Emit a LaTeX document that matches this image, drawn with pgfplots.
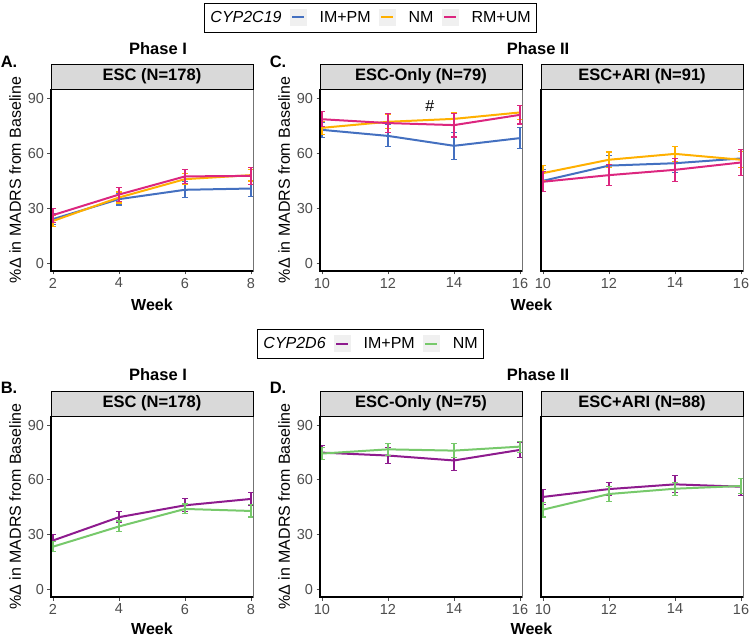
\documentclass[border=0pt]{standalone}
\usepackage{fontspec}
\setmainfont{Liberation Sans}
\usepackage{pgfplots}
\pgfplotsset{compat=1.18}
\definecolor{cblue}{HTML}{4470C0}
\definecolor{corange}{HTML}{FFB000}
\definecolor{cmag}{HTML}{DC267F}
\definecolor{dpurple}{HTML}{8E1B8E}
\definecolor{dgreen}{HTML}{77C96B}
\definecolor{stripgray}{HTML}{D9D9D9}
\definecolor{ticktext}{HTML}{4D4D4D}
\definecolor{keygray}{HTML}{F0F0F0}
\newcommand{\bigbold}{\fontsize{16.5bp}{19bp}\selectfont\bfseries}
\newcommand{\labfont}{\fontsize{16bp}{18bp}\selectfont}
\pgfplotsset{
  panel/.style={
    scale only axis, width=202bp,
    ymin=-4.3, ymax=95, ytick={0,30,60,90},
    axis line style={draw=black!55, line width=0.6bp},
    tick align=outside, tick pos=left, major tick length=3.5bp,
    tick style={ticktext, line width=0.8bp},
    ticklabel style={font=\fontsize{14.5bp}{16bp}\selectfont, text=ticktext},
    /pgf/number format/assume math mode=true,
    ylabel style={font=\labfont, at={(axis description cs:-0.178,0.5)}, anchor=center},
    xlabel style={font=\fontsize{16bp}{18bp}\selectfont\bfseries, anchor=center},
    legend image code/.code={\fill[keygray, draw=none] (0bp,-8.5bp) rectangle (17bp,8.5bp); \draw[##1, line width=2bp] (2.5bp,0bp) -- (14.5bp,0bp); \path (27bp,0bp);},
  },
  leg/.style={legend style={at={(axis description cs:#1)}, anchor=center, draw=black, line width=0.9bp,
    legend columns=-1, font=\labfont, inner xsep=4bp, inner ysep=6bp,
    /tikz/every even column/.append style={column sep=6bp}},
    legend cell align=left},
  ser/.style={color=#1, line width=2bp, mark=none,
    error bars/.cd, y dir=both, y explicit,
    error bar style={line width=1.1bp, #1},
    error mark options={rotate=90, mark size=3bp, line width=1.1bp, #1}},
}
\begin{document}
\begin{tikzpicture}
\useasboundingbox (0,0) rectangle (749bp,639bp);
% ---------- Panel A ----------
\begin{axis}[panel, name=A, at={(51bp,368bp)}, anchor=south west, height=182bp,
  xmin=1.94, xmax=8.06, xtick={2,4,6,8},
  ylabel={\%Δ in MADRS from Baseline},
  xlabel={Week}, xlabel style={at={(axis description cs:0.5,-0.187)}},
  leg={1.582,1.393}]
\addlegendimage{empty legend}
\addlegendentry{\textit{CYP2C19}}
\addplot[ser=cblue] coordinates {(2,24) +- (0,3) (4,34.9) +- (0,3.2) (6,40) +- (0,4.3) (8,40.7) +- (0,4.4)};
\addlegendentry{IM+PM}
\addplot[ser=corange] coordinates {(2,23) +- (0,2.8) (4,35.8) +- (0,3) (6,45.8) +- (0,3) (8,48) +- (0,3.2)};
\addlegendentry{NM}
\addplot[ser=cmag] coordinates {(2,26.2) +- (0,3.8) (4,37.4) +- (0,3.8) (6,47.3) +- (0,4) (8,47.6) +- (0,4.8)};
\addlegendentry{RM+UM}
\end{axis}
% ---------- Panel C1 ----------
\begin{axis}[panel, name=C1, at={(320bp,368bp)}, anchor=south west, height=182bp,
  xmin=9.94, xmax=16.06, xtick={10,12,14,16},
  ylabel={\%Δ in MADRS from Baseline},
  xlabel={Week}, xlabel style={at={(axis description cs:1.047,-0.187)}}]
\addplot[ser=cblue] coordinates {(10,72.7) +- (0,4) (12,69.4) +- (0,6) (14,64) +- (0,7.4) (16,68.2) +- (0,5.7)};
\addplot[ser=corange] coordinates {(10,73.8) +- (0,3.5) (12,77.1) +- (0,3.8) (14,78.7) +- (0,3.5) (16,82.2) +- (0,3.8)};
\addplot[ser=cmag] coordinates {(10,78.5) +- (0,4) (12,76.4) +- (0,5.2) (14,75.3) +- (0,6.5) (16,80.9) +- (0,5)};
\node[font=\labfont] at (axis cs:13.27,85.5) {\#};
\end{axis}
% ---------- Panel C2 ----------
\begin{axis}[panel, name=C2, at={(541bp,368bp)}, anchor=south west, height=182bp,
  xmin=9.94, xmax=16.06, xtick={10,12,14,16}, ytick=\empty]
\addplot[ser=cblue] coordinates {(10,44.9) +- (0,6) (12,53.2) +- (0,5.3) (14,54.5) +- (0,5.3) (16,57.1) +- (0,5)};
\addplot[ser=corange] coordinates {(10,49.1) +- (0,4) (12,56.4) +- (0,4.2) (14,59.6) +- (0,4) (16,56.4) +- (0,4.3)};
\addplot[ser=cmag] coordinates {(10,44.4) +- (0,5.4) (12,48) +- (0,5.7) (14,50.9) +- (0,6.2) (16,54.9) +- (0,7)};
\end{axis}
% ---------- Panel B ----------
\begin{axis}[panel, name=B, at={(51bp,42bp)}, anchor=south west, height=181bp,
  xmin=1.94, xmax=8.06, xtick={2,4,6,8},
  ylabel={\%Δ in MADRS from Baseline},
  xlabel={Week}, xlabel style={at={(axis description cs:0.5,-0.177)}},
  leg={1.582,1.398}]
\addlegendimage{empty legend}
\addlegendentry{\textit{CYP2D6}}
\addplot[ser=dpurple] coordinates {(2,26.7) +- (0,3.3) (4,39.5) +- (0,3) (6,46) +- (0,3.5) (8,49.5) +- (0,3.6)};
\addlegendentry{IM+PM}
\addplot[ser=dgreen] coordinates {(2,23.3) +- (0,2.8) (4,34.4) +- (0,3) (6,44) +- (0,2.7) (8,42.9) +- (0,3.3)};
\addlegendentry{NM}
\end{axis}
% ---------- Panel D1 ----------
\begin{axis}[panel, name=D1, at={(320bp,42bp)}, anchor=south west, height=181bp,
  xmin=9.94, xmax=16.06, xtick={10,12,14,16},
  ylabel={\%Δ in MADRS from Baseline},
  xlabel={Week}, xlabel style={at={(axis description cs:1.047,-0.177)}}]
\addplot[ser=dpurple] coordinates {(10,74.9) +- (0,3.8) (12,73.3) +- (0,4.3) (14,70.6) +- (0,5.5) (16,76.4) +- (0,4.2)};
\addplot[ser=dgreen] coordinates {(10,74.4) +- (0,3.3) (12,76.7) +- (0,3.2) (14,76) +- (0,4) (16,78.2) +- (0,3)};
\end{axis}
% ---------- Panel D2 ----------
\begin{axis}[panel, name=D2, at={(541bp,42bp)}, anchor=south west, height=181bp,
  xmin=9.94, xmax=16.06, xtick={10,12,14,16}, ytick=\empty]
\addplot[ser=dpurple] coordinates {(10,50.6) +- (0,4.3) (12,54.9) +- (0,3.6) (14,57.5) +- (0,4.7) (16,56.2) +- (0,4.7)};
\addplot[ser=dgreen] coordinates {(10,43.6) +- (0,4) (12,52.2) +- (0,3.9) (14,55.1) +- (0,3.5) (16,56.6) +- (0,4)};
\end{axis}
% ---------- strips, axis lines ----------
\foreach \nm/\tx in {A/ESC (N=178), C1/ESC-Only (N=79), C2/ESC+ARI (N=91), B/ESC (N=178), D1/ESC-Only (N=75), D2/ESC+ARI (N=88)}{
  \draw[fill=stripgray, line width=0.8bp] (\nm.north west) rectangle ([yshift=25bp]\nm.north east);
  \node[font=\bigbold] at ([yshift=12.5bp]\nm.north) {\tx};
  \draw[black, line width=1.1bp] (\nm.north west) -- (\nm.south west) -- (\nm.south east);
}
% ---------- titles ----------
\node[font=\bigbold] at (158bp,590bp) {Phase I};
\node[font=\bigbold] at (538bp,590bp) {Phase II};
\node[font=\bigbold] at (158bp,264bp) {Phase I};
\node[font=\bigbold] at (538bp,264bp) {Phase II};
\node[font=\bigbold] at (9bp,577bp) {A.};
\node[font=\bigbold] at (278bp,577bp) {C.};
\node[font=\bigbold] at (9bp,251bp) {B.};
\node[font=\bigbold] at (278bp,251bp) {D.};
\end{tikzpicture}
\end{document}
